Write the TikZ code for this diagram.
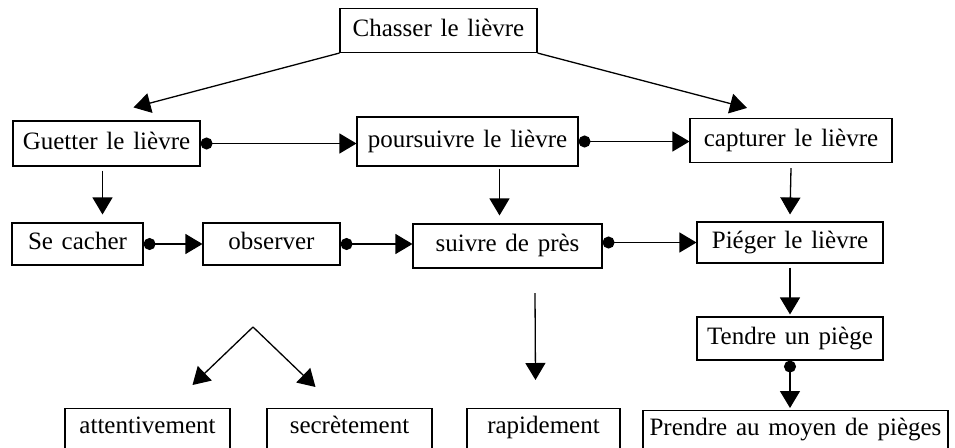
\documentclass[tikz,border=0pt]{standalone}
\usepackage{fontspec}
\setmainfont{Liberation Serif}[WordSpace=1.4]
\usetikzlibrary{arrows.meta}

\tikzset{
  boite/.style={draw, line width=1.1pt, minimum height=44pt, inner sep=0pt,
    text height=16pt, text depth=5pt, font=\fontsize{25}{29}\selectfont},
  bas/.style={boite, anchor=north, inner ysep=9pt, text depth=40pt},
  fleche/.style={line width=1.3pt, -{Triangle[length=17pt,width=20pt]}},
  lien/.style={line width=1.3pt, {Circle[length=12pt]}-{Triangle[length=17pt,width=20pt]}},
}

\begin{document}
\begin{tikzpicture}[x=1pt,y=-1pt]
        \fill[white] (0,0) rectangle (955,447);
        \useasboundingbox (0,0) rectangle (955,447);

        \node[boite, minimum width=197pt] (chasser) at (438.5,30.5) {Chasser le lièvre};

        \node[boite, minimum width=187pt, minimum height=45pt] (guetter) at (106.5,143.5) {Guetter le lièvre};
        \node[boite, minimum width=221pt, minimum height=49pt] (poursuivre) at (467.5,141.5) {poursuivre le lièvre};
        \node[boite, minimum width=202pt] (capturer) at (791,140.5) {capturer le lièvre};

        \node[boite, minimum width=131pt, minimum height=42pt] (cacher) at (77.5,244) {Se cacher};
        \node[boite, minimum width=137pt, minimum height=42pt] (observer) at (271.5,244) {observer};
        \node[boite, minimum width=189pt] (suivre) at (507.5,246) {suivre de près};
        \node[boite, minimum width=186pt, minimum height=41pt] (pieger) at (790,242.5) {Piéger le lièvre};
        \node[boite, minimum width=186pt, minimum height=43pt] (tendre) at (790,338.5) {Tendre un piège};

        \node[bas, minimum width=165pt] (attentivement) at (147.5,408) {attentivement};
        \node[bas, minimum width=165pt] (secretement) at (349.5,408) {secrètement};
        \node[bas, minimum width=153pt] (rapidement) at (543.5,408) {rapidement};
        \node[bas, minimum width=305pt] (prendre) at (795.5,410) {Prendre au moyen de pièges};

        \coordinate (sommet) at (253,327);
        \coordinate (depart) at (535,293);

        \draw[fleche] (chasser.south west) -- ([xshift=27pt,yshift=13pt]guetter.north);
        \draw[fleche] (chasser.south east) -- ([xshift=-44pt,yshift=10pt]capturer.north);

        \draw[lien] (guetter.east) -- (guetter.east -| poursuivre.west);
        \draw[lien] (poursuivre.east) -- (poursuivre.east -| capturer.west);

        \draw[fleche, shorten <=4pt, shorten >=8pt] ([xshift=-4pt]guetter.south) -- ([xshift=-4pt]guetter.south |- cacher.north);
        \draw[fleche] ([xshift=-8pt,yshift=-2pt]poursuivre.south -| suivre.north) -- ([xshift=-8pt,yshift=8pt]suivre.north);
        \draw[fleche] ([yshift=-5pt]capturer.south) -- ([yshift=7pt]pieger.north);

        \draw[lien] (cacher.east) -- (observer.west);
        \draw[lien] (observer.east) -- (observer.east -| suivre.west);
        \draw[lien] (pieger.west -| suivre.east) -- (pieger.west);

        \draw[fleche] ([yshift=-4pt]pieger.south) -- ([yshift=2pt]tendre.north);
        \draw[lien] (tendre.south) -- ([yshift=2pt]tendre.south |- prendre.north);

        \draw[fleche] (sommet) -- ([xshift=45pt,yshift=23pt]attentivement.north);
        \draw[fleche] (sommet) -- ([xshift=-34pt,yshift=21pt]secretement.north);
        \draw[fleche] (depart) -- ([xshift=-8pt,yshift=28pt]rapidement.north);

    \end{tikzpicture}
\end{document}
